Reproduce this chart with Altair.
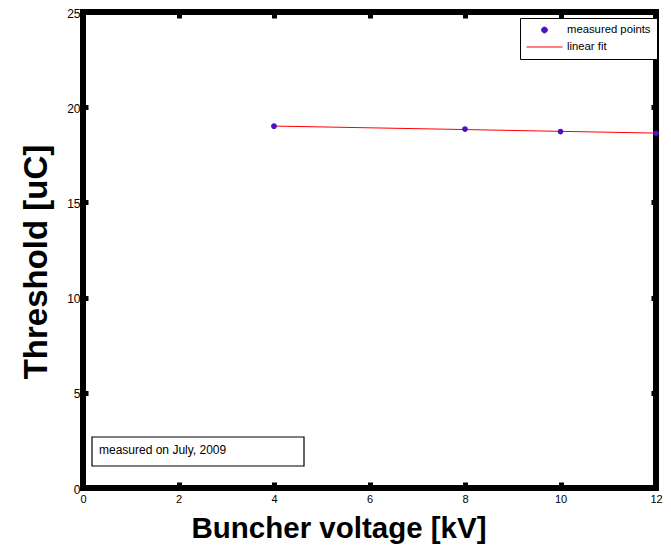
import altair as alt
import pandas as pd

# ---- data ----
meas_x = [4, 8, 10, 12]
meas_y = [19.0, 18.85, 18.72, 18.63]
fit_x = [4, 12]
fit_y = [19.01, 18.64]
series_names = ["measured points", "linear fit"]
x_ticks = [0, 2, 4, 6, 8, 10, 12]
y_ticks = [0, 5, 10, 15, 20, 25]
x_title = "Buncher voltage [kV]"
y_title = "Threshold [uC]"
note_text = ["measured on July, 2009"]

meas_df = pd.DataFrame({"x": meas_x, "y": meas_y, "series": series_names[0]})
fit_df = pd.DataFrame({"x": fit_x, "y": fit_y, "series": series_names[1]})
note_df = pd.DataFrame({"label": note_text})

W, H = 573, 476
FONT = "Liberation Sans"
DOT = "M-0.16,0A0.16,0.16,0,1,0,0.16,0A0.16,0.16,0,1,0,-0.16,0Z"

xscale = alt.Scale(domain=[0, 12], nice=False, zero=False)
yscale = alt.Scale(domain=[0, 25], nice=False)
color_scale = alt.Scale(domain=series_names, range=["#5010c0", "#ff0000"])
shape_scale = alt.Scale(domain=series_names, range=[DOT, "stroke"])

legend = alt.Legend(
    title=None, orient="none", legendX=437, legendY=6,
    strokeColor="black", fillColor="white", padding=6,
    symbolSize=1296, clipHeight=12, rowPadding=5, labelOffset=4,
    labelFontSize=11.3, labelFont=FONT, labelColor="black",
    symbolStrokeWidth=1,
)

x_bottom = alt.Axis(
    orient="bottom", values=x_ticks, offset=-6, tickSize=6, tickWidth=5,
    tickColor="black", domain=False, grid=False, labelFontSize=11,
    labelFlush=False, labelPadding=5, title=x_title, titleFontSize=29.5,
    titleFontWeight="bold", titleX=255.5, titleY=55, titleAlign="center",
    titleBaseline="alphabetic",
)
x_top = alt.Axis(
    orient="top", values=x_ticks, offset=-6, tickSize=6, tickWidth=5,
    tickColor="black", domain=False, grid=False, labels=False, title=None,
)
y_left = alt.Axis(
    orient="left", values=y_ticks, offset=-5, tickSize=5, tickWidth=5,
    tickColor="black", domain=False, grid=False, labelFontSize=12,
    labelFlush=False, labelOffset=1, labelPadding=3, title=y_title,
    titleFontSize=33, titleFontWeight="bold", titleAngle=270, titleX=-42,
    titleY=249.5, titleAlign="center", titleBaseline="alphabetic",
)
y_right = alt.Axis(
    orient="right", values=y_ticks, offset=-5, tickSize=5, tickWidth=5,
    tickColor="black", domain=False, grid=False, labels=False, title=None,
)

box = alt.Chart(note_df).mark_rect(fill="white", stroke="black", strokeWidth=1.2).encode(
    x=alt.value(9), x2=alt.value(221), y=alt.value(425), y2=alt.value(454)
)
note = alt.Chart(note_df).mark_text(
    align="left", baseline="middle", fontSize=12, font=FONT, color="black"
).encode(x=alt.value(16), y=alt.value(437.5), text="label:N")

fit = alt.Chart(fit_df).mark_line(strokeWidth=1).encode(
    x=alt.X("x:Q", scale=xscale, axis=x_top),
    y=alt.Y("y:Q", scale=yscale, axis=y_right),
    color=alt.Color("series:N", scale=color_scale, legend=legend),
)

points = alt.Chart(meas_df).mark_point(filled=True, size=1296, opacity=1).encode(
    x=alt.X("x:Q", scale=xscale, axis=x_bottom),
    y=alt.Y("y:Q", scale=yscale, axis=y_left),
    color=alt.Color("series:N", scale=color_scale, legend=legend),
    shape=alt.Shape("series:N", scale=shape_scale, legend=legend),
)

chart = (
    alt.layer(box, note, fit, points)
    .resolve_axis(x="independent", y="independent")
    .properties(
        width=W, height=H,
        padding={"left": 75, "top": 4, "right": 7, "bottom": 56},
        autosize=alt.AutoSizeParams(type="none"),
        background="white",
    )
    .configure_view(stroke="black", strokeWidth=6)
    .configure_axis(labelFont=FONT, titleFont=FONT, labelColor="black", titleColor="black")
)

chart.save("out.html", embed_options={"renderer": "svg", "actions": False})
